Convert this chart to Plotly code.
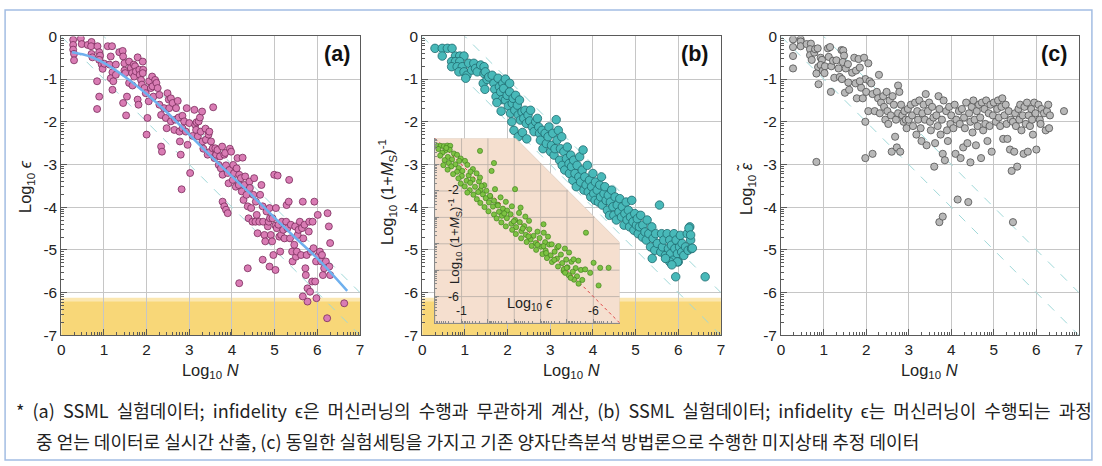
import math
import plotly.graph_objects as go

# ---------------- data ----------------
# panel (a): Log10 N vs Log10 eps
a_x = [0.28,0.28,0.28,0.30,0.30,0.46,0.48,0.62,0.71,0.70,
       0.71,0.73,0.85,0.89,0.91,0.89,0.84,0.89,0.84,0.95,
       0.97,1.01,1.09,1.19,1.16,1.13,1.20,1.16,1.20,1.22,
       1.28,1.28,1.36,1.44,1.45,1.48,1.48,1.50,1.45,1.52,
       1.54,1.59,1.59,1.63,1.66,1.67,1.70,1.71,1.73,1.75,
       1.79,1.83,1.79,1.81,1.84,1.87,1.89,1.91,1.92,1.95,
       1.91,1.98,2.00,2.02,2.05,2.06,2.10,2.13,2.14,2.16,
       2.20,2.23,2.26,2.30,2.30,2.34,2.34,2.36,2.41,2.45,
       2.47,2.49,2.52,2.53,2.57,2.57,2.61,2.65,2.67,2.69,
       2.73,2.75,2.77,2.78,2.80,2.84,2.84,2.88,2.92,2.94,
       2.96,3.00,3.02,3.08,2.82,3.12,3.14,3.16,3.17,3.20,
       3.22,3.25,3.27,3.30,3.31,3.33,3.38,3.39,3.43,3.45,
       3.47,3.48,3.51,3.55,3.56,3.59,3.61,3.63,3.66,3.69,
       3.72,3.74,3.77,3.78,3.82,3.84,3.86,3.90,3.92,3.94,
       3.95,3.98,4.02,4.03,4.05,4.09,4.11,4.13,4.16,4.17,
       3.78,3.82,3.86,3.90,4.17,4.37,4.21,4.23,4.25,4.27,
       4.29,4.31,4.34,4.37,4.39,4.41,4.42,4.45,4.48,4.50,
       4.52,4.55,4.56,4.58,4.60,4.64,4.66,4.69,4.72,4.73,
       4.76,4.78,4.81,4.84,4.86,4.88,4.89,4.91,4.94,4.95,
       4.97,4.99,5.02,5.03,5.05,5.07,5.09,5.11,5.13,5.15,
       4.72,4.88,5.02,5.17,5.20,5.23,5.27,5.28,5.30,5.33,
       5.34,5.36,5.38,5.41,5.42,5.46,5.48,5.50,5.52,5.54,
       5.56,5.59,5.62,5.64,5.66,5.67,5.70,5.72,5.73,5.75,
       5.77,5.80,5.81,5.83,5.85,5.88,5.89,5.91,5.93,5.95,
       5.97,5.98,6.01,6.03,5.77,5.66,6.06,6.09,6.11,6.13,
       6.16,6.20,6.24,6.27,6.30,6.28,6.30,6.23,6.63]
a_y = [-0.08,-0.20,-0.31,-0.41,-0.56,-0.05,-0.18,-0.20,-0.13,-0.23,
       -0.41,-0.49,-0.23,-0.37,-0.45,-0.55,-1.05,-1.41,-1.70,-0.66,
       -0.76,-0.64,-0.23,-0.23,-0.47,-0.66,-0.84,-0.98,-1.25,-1.05,
       -0.66,-0.90,-0.37,-0.34,-0.47,-0.63,-0.80,-0.86,-1.56,-1.85,
       -1.41,-1.09,-0.59,-0.74,-0.86,-1.15,-0.66,-0.94,-0.70,-0.82,
       -0.49,-0.78,-1.48,-1.60,-0.90,-1.02,-1.13,-0.59,-0.78,-1.21,
       -0.86,-1.33,-2.30,-1.91,-1.52,-1.05,-1.21,-0.94,-1.17,-1.41,
       -1.02,-1.09,-1.21,-1.60,-1.37,-1.84,-2.58,-2.70,-1.68,-1.91,
       -2.15,-1.33,-1.48,-1.68,-1.99,-1.45,-1.56,-2.19,-1.95,-1.68,
       -1.51,-1.90,-2.23,-2.46,-2.77,-2.15,-1.86,-1.99,-2.23,-1.68,
       -2.54,-2.03,-3.20,-2.33,-3.58,-1.72,-2.07,-2.19,-2.01,-2.34,
       -1.99,-1.90,-2.23,-1.76,-2.46,-2.63,-2.16,-2.42,-2.77,-2.30,
       -2.23,-2.71,-2.46,-2.62,-1.66,-2.85,-2.62,-2.77,-2.66,-3.01,
       -2.81,-3.09,-2.58,-3.24,-2.77,-2.73,-3.02,-3.20,-3.44,-3.13,
       -2.63,-2.70,-3.36,-3.01,-3.20,-3.52,-3.09,-2.85,-3.48,-3.24,
       -3.87,-3.98,-4.06,-4.14,-5.78,-5.43,-3.32,-3.63,-2.84,-3.83,
       -3.48,-3.28,-3.71,-3.98,-4.26,-3.40,-3.55,-4.02,-4.34,-3.71,
       -3.32,-4.34,-3.87,-4.18,-4.61,-4.34,-3.71,-3.48,-3.98,-4.34,
       -4.65,-4.80,-4.10,-4.45,-4.34,-4.02,-4.26,-4.65,-4.80,-4.26,
       -5.12,-3.24,-4.43,-4.02,-4.49,-3.26,-4.41,-4.69,-5.04,-4.65,
       -5.23,-5.39,-5.47,-4.34,-4.53,-4.73,-4.34,-3.95,-4.49,-3.87,
       -3.36,-4.73,-4.41,-5.04,-5.27,-4.88,-4.45,-5.16,-5.04,-4.65,
       -4.53,-4.34,-5.12,-4.49,-3.87,-4.73,-4.41,-5.43,-5.59,-5.12,
       -5.90,-4.57,-4.34,-5.98,-5.04,-5.74,-4.34,-4.96,-3.87,-5.74,
       -5.27,-6.13,-4.18,-5.12,-6.21,-6.09,-5.04,-5.27,-5.12,-5.59,
       -5.43,-5.27,-4.14,-4.45,-4.84,-5.39,-5.59,-6.60,-6.25]

# fitted curve in panel (a)
fit_x = [0.25, 0.5, 0.75, 1.0, 1.5, 2.0, 2.5, 3.0, 3.5, 4.0, 4.5, 5.0, 5.5, 6.0, 6.7]
fit_y = [-0.37, -0.42, -0.50, -0.62, -0.95, -1.35, -1.80, -2.30, -2.80, -3.28, -3.75, -4.25, -4.73, -5.20, -5.96]

# panel (b): Log10 N vs Log10 (1+M_S)^-1
b_x = [0.30,0.47,0.59,0.70,0.47,0.78,0.88,0.98,0.69,0.78,
       0.88,0.69,0.82,0.94,0.86,0.98,1.09,1.05,1.16,1.02,
       1.21,1.25,1.29,1.37,1.45,1.45,1.48,1.43,1.52,1.47,
       1.56,1.64,1.68,1.70,1.73,1.78,1.81,1.84,1.88,1.89,
       1.91,1.95,1.99,2.02,2.05,2.07,2.11,2.13,2.17,2.19,
       2.23,2.25,2.28,2.30,2.34,2.38,2.41,2.44,2.48,2.52,
       1.95,2.05,2.15,2.25,2.10,1.85,1.75,2.35,2.45,
       2.54,2.58,2.62,2.66,2.70,2.73,2.75,2.77,2.81,2.83,
       2.88,2.91,2.95,2.97,3.01,3.03,3.06,3.09,3.11,3.14,
       3.16,3.19,3.22,3.24,3.27,3.28,3.32,3.34,3.38,3.40,
       3.44,3.45,3.48,3.50,3.53,3.55,3.58,3.61,3.63,3.67,
       3.69,3.71,3.75,3.77,3.79,3.81,3.84,3.87,3.89,3.92,
       3.95,3.97,4.00,4.02,4.05,4.06,4.10,4.13,4.16,4.18,
       4.20,4.22,4.26,4.28,4.31,4.34,4.36,4.39,4.41,4.44,
       4.47,4.49,4.52,4.55,4.57,4.61,4.63,4.67,4.69,4.73,
       4.75,4.78,4.80,4.83,4.86,4.88,4.91,4.94,4.96,4.98,
       5.02,5.04,5.06,5.09,5.12,5.16,5.17,5.22,5.25,5.27,
       5.31,5.35,5.38,5.41,5.45,5.47,5.51,5.56,5.59,5.61,
       5.63,5.66,5.70,5.74,5.77,5.80,5.82,5.84,5.88,5.90,
       5.92,5.95,5.98,6.00,6.03,6.05,6.08,6.09,6.13,6.17,
       6.21,6.23,6.27,6.29,6.31,5.80,5.98,5.94,6.63,5.70,
       5.85,6.25,6.29,6.33,5.39]
b_y = [-0.28,-0.28,-0.28,-0.28,-0.46,-0.46,-0.46,-0.46,-0.59,-0.59,
       -0.59,-0.71,-0.71,-0.71,-0.83,-0.83,-0.63,-0.91,-0.79,-0.98,
       -0.63,-0.75,-0.83,-0.67,-0.71,-0.87,-0.83,-1.10,-1.01,-1.24,
       -0.95,-0.91,-1.10,-1.24,-1.41,-0.98,-1.18,-1.30,-1.48,-1.10,
       -1.22,-1.49,-1.38,-1.63,-1.30,-1.80,-1.57,-1.45,-1.73,-1.38,
       -1.61,-1.84,-1.49,-1.96,-1.77,-1.92,-1.73,-2.04,-1.84,-1.98,
       -1.00,-1.10,-2.20,-2.35,-2.00,-1.75,-1.55,-2.25,-2.40,
       -1.73,-2.12,-2.23,-2.00,-1.92,-2.12,-2.27,-2.43,-2.20,-2.63,
       -2.27,-2.51,-2.35,-2.12,-2.70,-2.55,-2.27,-2.78,-2.63,-1.95,
       -2.43,-2.20,-2.90,-2.63,-2.35,-3.02,-2.70,-3.13,-2.86,-2.59,
       -2.98,-3.21,-2.78,-3.05,-3.37,-2.90,-3.21,-3.52,-3.02,-3.29,
       -2.82,-3.41,-3.13,-2.66,-3.60,-3.29,-3.48,-3.02,-3.64,-3.37,
       -3.76,-3.52,-3.21,-3.68,-3.84,-3.41,-3.60,-3.88,-3.48,-3.76,
       -3.29,-3.95,-3.68,-3.52,-3.84,-4.07,-3.72,-4.19,-3.88,-3.60,
       -3.99,-4.19,-3.76,-4.30,-3.95,-4.11,-3.80,-4.23,-3.99,-4.42,
       -4.15,-3.88,-4.30,-4.07,-4.46,-4.23,-3.84,-4.34,-4.54,-4.15,
       -4.42,-4.27,-4.62,-4.46,-4.19,-4.70,-4.42,-4.58,-4.77,-4.30,
       -4.62,-4.93,-4.46,-4.73,-5.01,-4.62,-4.85,-3.95,-5.05,-4.62,
       -4.93,-4.77,-5.13,-4.62,-4.97,-4.77,-5.09,-4.89,-5.24,-4.62,
       -4.97,-4.77,-5.09,-5.28,-4.93,-4.66,-5.05,-4.85,-5.13,-4.93,
       -4.62,-5.01,-4.46,-4.77,-4.97,-5.28,-5.28,-5.63,-5.63,-5.20,
       -5.35,-4.49,-4.65,-4.96,-5.20]

# inset of (b): Log10 eps vs Log10 (1+M_S)^-1
ins_x = [-0.08,-0.21,-0.33,-0.46,-0.57,
         -0.12,-0.38,-0.27,-0.55,-0.71,
         -0.19,-0.48,-0.83,-0.36,-0.64,
         -0.97,-0.52,-0.76,-1.13,-0.31,
         -0.61,-0.89,-1.22,-0.47,-0.83,
         -1.03,-1.43,-0.68,-1.01,-1.27,
         -1.57,-0.88,-1.19,-1.42,-0.97,
         -1.33,-1.66,-1.86,-1.12,-1.51,
         -1.72,-1.31,-1.63,-1.94,-2.27,
         -1.45,-1.81,-2.09,-1.22,-1.58,
         -1.92,-2.23,-2.48,-1.71,-2.04,
         -2.36,-2.68,-1.87,-2.19,-2.57,
         -2.91,-2.02,-2.42,-2.73,-2.23,
         -2.53,-2.86,-3.18,-2.33,-2.72,
         -3.03,-3.42,-2.51,-2.89,-3.21,
         -3.56,-2.68,-3.07,-3.38,-2.92,
         -3.27,-3.57,-3.88,-3.06,-3.44,
         -3.73,-4.12,-3.26,-3.62,-3.96,
         -4.28,-3.47,-3.81,-4.17,-3.66,
         -4.02,-4.33,-4.63,-3.83,-4.19,
         -4.53,-4.92,-4.07,-4.38,-4.77,
         -5.08,-4.24,-4.62,-4.97,-4.43,
         -4.82,-5.17,-5.43,-4.66,-5.02,
         -5.33,-4.87,-5.22,-5.53,-5.07,
         -5.38,-5.27,-5.58,-5.44,
         -0.42,-0.91,-1.34,-1.76,-2.08,
         -2.38,-2.62,-2.98,-3.32,-3.54,
         -3.88,-4.21,-4.52,-4.88,-5.14,
         -1.70,-2.23,-2.14,-1.70,-3.03,
         -3.24,-4.11,-4.42,-4.68,-4.11,
         -5.72,-6.58,-6.26,-6.20,-5.69,
         -6.01,-5.88,-5.25,-4.99,-4.93]
ins_y = [-0.29,-0.29,-0.30,-0.28,-0.29,
         -0.41,-0.47,-0.55,-0.44,-0.58,
         -0.66,-0.71,-0.63,-0.83,-0.80,
         -0.77,-0.94,-0.99,-0.86,-1.02,
         -1.07,-1.13,-1.01,-1.19,-1.27,
         -1.24,-1.17,-1.36,-1.43,-1.41,
         -1.33,-1.52,-1.61,-1.57,-1.72,
         -1.69,-1.64,-1.78,-1.83,-1.84,
         -1.96,-1.97,-2.04,-1.99,-1.93,
         -2.14,-2.13,-2.21,-2.06,-2.31,
         -2.27,-2.37,-2.24,-2.45,-2.43,
         -2.52,-2.41,-2.61,-2.59,-2.67,
         -2.58,-2.77,-2.79,-2.74,-2.89,
         -2.94,-2.88,-2.83,-3.04,-3.03,
         -3.10,-2.97,-3.19,-3.24,-3.18,
         -3.13,-3.34,-3.37,-3.33,-3.47,
         -3.52,-3.45,-3.54,-3.63,-3.66,
         -3.70,-3.58,-3.79,-3.84,-3.78,
         -3.73,-3.93,-3.97,-3.94,-4.08,
         -4.11,-4.03,-4.14,-4.23,-4.26,
         -4.30,-4.18,-4.39,-4.44,-4.41,
         -4.33,-4.54,-4.56,-4.60,-4.69,
         -4.73,-4.68,-4.64,-4.86,-4.89,
         -4.92,-5.03,-5.06,-4.99,-5.19,
         -5.23,-5.36,-5.37,-5.51,
         -0.37,-0.86,-1.27,-1.81,-2.18,
         -2.55,-2.85,-3.15,-3.42,-3.72,
         -4.04,-4.35,-4.61,-4.96,-5.29,
         -0.48,-0.94,-1.24,-1.49,-1.93,
         -2.63,-3.26,-4.02,-4.09,-4.09,
         -3.58,-4.91,-4.91,-5.58,-4.97,
         -4.72,-5.10,-4.59,-4.91,-5.10]

# panel (c): Log10 N vs Log10 eps~ (conventional tomography)
c_x = [0.28,0.28,0.28,0.28,0.46,0.46,0.46,0.60,0.70,0.68,
       0.68,0.72,0.78,0.80,0.86,0.87,0.83,0.88,0.93,0.96,
       0.93,0.98,1.03,1.02,0.83,
       1.10,1.15,1.12,1.18,1.17,1.22,1.25,1.30,1.35,1.38,
       1.42,1.46,1.48,1.45,1.43,1.52,1.50,1.57,1.58,1.60,
       1.67,1.72,1.76,1.75,1.78,1.82,1.85,1.88,1.95,1.98,
       1.92,2.00,1.98,1.98,1.85,
       2.05,2.08,2.05,2.12,2.15,2.15,2.20,2.25,2.28,2.30,
       2.32,2.35,2.40,2.42,2.45,2.48,2.50,2.52,2.55,2.58,
       2.60,2.62,2.65,2.68,2.70,2.72,2.75,2.75,2.78,2.80,
       2.82,2.85,2.88,2.90,2.93,2.95,2.98,3.00,
       3.05,3.08,3.10,3.15,3.18,3.20,3.22,3.25,3.28,3.30,
       3.32,3.35,3.38,3.40,3.42,3.45,3.48,3.50,3.52,3.55,
       3.58,3.60,3.62,3.65,3.68,3.70,3.72,3.72,3.75,3.78,
       3.80,3.80,3.82,3.85,3.88,3.90,3.92,3.95,3.98,4.00,
       4.05,4.08,4.10,4.12,4.15,4.18,4.20,4.22,4.25,4.28,
       4.30,4.32,4.35,4.38,4.40,4.42,4.45,4.45,4.48,4.50,
       4.52,4.55,4.58,4.60,4.62,4.65,4.68,4.70,4.72,4.75,
       4.78,4.80,4.82,4.85,4.88,4.90,4.92,4.95,4.98,5.00,
       5.05,5.08,5.10,5.12,5.15,5.18,5.20,5.22,5.25,5.28,
       5.30,5.32,5.35,5.38,5.40,5.42,5.45,5.45,5.48,5.50,
       5.52,5.55,5.58,5.60,5.62,5.65,5.68,5.70,5.72,5.75,
       5.78,5.80,5.82,5.85,5.88,5.90,5.92,5.95,5.98,6.00,
       6.05,6.08,6.10,6.12,6.18,6.22,6.25,6.28,6.30,6.32,6.65]
c_y = [-0.07,-0.25,-0.46,-0.75,-0.07,-0.12,-0.23,-0.18,-0.17,-0.30,
       -0.44,-0.55,-0.38,-0.30,-0.28,-0.72,-0.87,-1.12,-0.50,-0.55,
       -0.67,-0.80,-0.70,-0.86,-2.94,
       -0.28,-0.25,-0.48,-0.70,-1.30,-0.57,-0.97,-0.56,-0.75,-0.95,
       -0.32,-0.33,-0.45,-0.60,-1.00,-0.75,-1.32,-0.65,-1.08,-1.25,
       -0.85,-0.50,-0.80,-1.10,-1.45,-0.53,-0.73,-1.20,-0.50,-1.00,
       -1.45,-1.30,-2.00,-2.85,-1.05,
       -0.63,-1.05,-1.75,-1.10,-1.35,-2.75,-1.75,-1.30,-1.45,-0.90,
       -1.80,-1.55,-1.40,-1.65,-1.95,-1.30,-1.75,-2.05,-1.50,-1.85,
       -2.70,-1.40,-1.60,-2.35,-1.95,-2.60,-1.15,-1.80,-1.30,-2.70,
       -1.60,-1.85,-2.00,-1.75,-1.95,-2.15,-1.70,-1.95,
       -1.60,-1.85,-2.10,-1.55,-2.30,-1.75,-1.95,-1.50,-2.15,-2.45,
       -1.80,-1.60,-1.95,-1.35,-2.55,-1.75,-1.55,-2.00,-2.20,-1.65,
       -1.90,-3.05,-2.50,-1.85,-2.10,-1.40,-1.70,-4.35,-2.30,-1.95,
       -4.22,-2.75,-1.50,-2.90,-1.75,-2.20,-2.45,-1.65,-2.05,-1.85,
       -2.15,-1.60,-2.75,-1.95,-3.82,-1.75,-2.05,-2.85,-1.70,-2.60,
       -1.90,-2.15,-1.55,-2.50,-3.88,-1.80,-2.00,-2.95,-1.65,-2.25,
       -1.50,-1.95,-2.55,-1.75,-2.10,-1.60,-1.90,-2.85,-1.55,-2.20,
       -1.70,-2.05,-1.50,-2.45,-1.80,-2.10,-1.60,-2.70,-1.85,-1.55,
       -2.00,-1.70,-1.50,-1.90,-2.10,-1.65,-1.45,-2.40,-1.85,-1.60,
       -2.05,-2.40,-1.75,-2.65,-1.95,-3.15,-4.35,-2.00,-2.70,-1.80,
       -2.10,-3.05,-1.70,-1.95,-1.60,-2.20,-1.85,-2.75,-1.65,-2.05,
       -1.55,-2.70,-1.85,-2.10,-1.70,-1.95,-2.30,-1.55,-1.80,-2.65,
       -1.60,-1.95,-2.05,-1.70,-1.80,-2.20,-1.75,-1.60,-2.15,-1.85,-1.75]

# reference guides: Log10 eps = -Log10 N + offset
guide_x = [0, 7]
guide_offsets = [0, 1]
# inset reference diagonal
ins_guide = [0, -7]

x_ticks = [0, 1, 2, 3, 4, 5, 6, 7]
y_ticks = [0, -1, -2, -3, -4, -5, -6, -7]
ins_ticks = [-1, -2, -3, -4, -5, -6]

caption1 = "* (a) SSML 실험데이터; infidelity ϵ은 머신러닝의 수행과 무관하게 계산, (b) SSML 실험데이터; infidelity ϵ는 머신러닝이 수행되는 과정"
caption2 = "중 얻는 데이터로 실시간 산출, (c) 동일한 실험세팅을 가지고 기존 양자단측분석 방법론으로 수행한 미지상태 추정 데이터"

# ---------------- figure ----------------
# The page adds an 8 px body margin and the whole page is fitted into the
# 1102x466 picture, so target pixel positions are converted accordingly.
OFF = 8
W, H = 1097, 469
KX, KY = 1102 / (W + 2 * OFF), 466 / (H + 2 * OFF)
FONT = "Liberation Sans, Arial, sans-serif"
AXC = "#5a5a5a"
GRID = "#c6c6c6"
FS = 1 / ((KX + KY) / 2)   # font scale compensation

def px_x(p):
    return (p / KX - OFF) / W

def px_y(p):
    return 1 - (p / KY - OFF) / H

dom_y = [px_y(333), px_y(35)]
dom_a = [px_x(65), px_x(363)]
dom_b = [px_x(425), px_x(723)]
dom_c = [px_x(783), px_x(1080)]
dom_ins_x = [px_x(438), px_x(622)]
dom_ins_y = [px_y(320.7), px_y(136.5)]

minor_x = [n + math.log10(k) for n in range(7) for k in range(2, 10)]
minor_y = [-m - 1 + math.log10(k) for m in range(7) for k in range(2, 10)]

fig = go.Figure()

def guides(xa, ya):
    for off in guide_offsets:
        fig.add_trace(go.Scatter(
            x=guide_x, y=[off - v for v in guide_x], xaxis=xa, yaxis=ya,
            mode="lines", line=dict(color="#9fd8d8", width=1, dash="dash"),
            hoverinfo="skip"))

# panel (a)
guides("x", "y")
fig.add_trace(go.Scatter(x=a_x, y=a_y, xaxis="x", yaxis="y", mode="markers",
                         marker=dict(size=7, color="#d97cb4",
                                     line=dict(color="#7a2c5c", width=0.8))))
fig.add_trace(go.Scatter(x=fit_x, y=fit_y, xaxis="x", yaxis="y", mode="lines",
                         line=dict(color="#6fb0ee", width=2.5, shape="spline")))

# panel (b)
guides("x2", "y2")
fig.add_trace(go.Scatter(x=b_x, y=b_y, xaxis="x2", yaxis="y2", mode="markers",
                         marker=dict(size=8.5, color="#48b9b9",
                                     line=dict(color="#1f6a6e", width=0.8))))

# panel (c)
guides("x3", "y3")
fig.add_trace(go.Scatter(x=c_x, y=c_y, xaxis="x3", yaxis="y3", mode="markers",
                         marker=dict(size=7.2, color="#b8b8b8",
                                     line=dict(color="#505050", width=0.8))))

# inset (on its own axes, drawn above panel b)
cut_x0 = -3.05  # the inset's upper-right corner is cut along y = x - cut_x0
poly_x = [0, cut_x0, -7, -7, 0, 0]
poly_y = [0, 0, -7 - cut_x0, -7, -7, 0]
fig.add_trace(go.Scatter(x=poly_x, y=poly_y, xaxis="x4", yaxis="y4", mode="lines",
                         fill="toself", fillcolor="#f5dfcf",
                         line=dict(color="#dccbbe", width=0.8), hoverinfo="skip"))
for t in ins_ticks:
    ytop = min(0, t - cut_x0)
    fig.add_trace(go.Scatter(x=[t, t], y=[-7, ytop], xaxis="x4", yaxis="y4", mode="lines",
                             line=dict(color="#bdb2aa", width=0.9), hoverinfo="skip"))
    xend = max(-7, t + cut_x0)
    fig.add_trace(go.Scatter(x=[0, xend], y=[t, t], xaxis="x4", yaxis="y4", mode="lines",
                             line=dict(color="#bdb2aa", width=0.9), hoverinfo="skip"))
fig.add_trace(go.Scatter(x=ins_guide, y=ins_guide, xaxis="x4", yaxis="y4", mode="lines",
                         line=dict(color="#e04848", width=1, dash="dot"), hoverinfo="skip"))
fig.add_trace(go.Scatter(x=ins_x, y=ins_y, xaxis="x4", yaxis="y4", mode="markers",
                         marker=dict(size=5.2, color="#7dc243",
                                     line=dict(color="#3b7a1a", width=0.6))))

def main_x(dom, anchor):
    return dict(domain=dom, anchor=anchor, range=[0, 7], showgrid=True, gridcolor=GRID,
                gridwidth=1, zeroline=False, showline=True, linecolor=AXC, linewidth=1.2,
                mirror=True, ticks="inside", ticklen=6, tickcolor=AXC, tickwidth=1,
                tickmode="array", tickvals=x_ticks, ticktext=[str(v) for v in x_ticks],
                tickfont=dict(family=FONT, size=15 * FS, color="#222"),
                minor=dict(tickmode="array", tickvals=minor_x, ticks="inside",
                           ticklen=3, tickcolor=AXC, showgrid=False))

def main_y(anchor):
    return dict(domain=dom_y, anchor=anchor, range=[-7, 0], showgrid=True, gridcolor=GRID,
                gridwidth=1, zeroline=False, showline=True, linecolor=AXC, linewidth=1.2,
                mirror=True, ticks="inside", ticklen=6, tickcolor=AXC, tickwidth=1,
                tickmode="array", tickvals=y_ticks, ticktext=[str(v) for v in y_ticks],
                tickfont=dict(family=FONT, size=15 * FS, color="#222"),
                minor=dict(tickmode="array", tickvals=minor_y, ticks="inside",
                           ticklen=3, tickcolor=AXC, showgrid=False))

fig.update_layout(
    width=W, height=H, margin=dict(l=0, r=0, t=0, b=0),
    paper_bgcolor="white", plot_bgcolor="rgba(0,0,0,0)",
    showlegend=False, hovermode=False,
    xaxis=main_x(dom_a, "y"), yaxis=main_y("x"),
    xaxis2=main_x(dom_b, "y2"), yaxis2=main_y("x2"),
    xaxis3=main_x(dom_c, "y3"), yaxis3=main_y("x3"),
    xaxis4=dict(domain=dom_ins_x, anchor="y4", range=[0, -7], showgrid=False, zeroline=False,
                showline=True, linecolor="#8a8a8a", linewidth=1, ticks="inside", ticklen=4,
                tickcolor="#8a8a8a", tickmode="array", tickvals=ins_ticks, showticklabels=False,
                minor=dict(tickmode="array", tickvals=[v for v in minor_y if v > -7], ticks="inside",
                           ticklen=2, tickcolor="#8a8a8a")),
    yaxis4=dict(domain=dom_ins_y, anchor="x4", range=[-7, 0], showgrid=False, zeroline=False,
                showline=True, linecolor="#8a8a8a", linewidth=1, ticks="inside", ticklen=4,
                tickcolor="#8a8a8a", tickmode="array", tickvals=ins_ticks, showticklabels=False,
                minor=dict(tickmode="array", tickvals=minor_y, ticks="inside",
                           ticklen=2, tickcolor="#8a8a8a")),
)

# yellow bands (a) and (b)
for xr, yr in (("x", "y"), ("x2", "y2")):
    fig.add_shape(type="rect", xref=xr, yref=yr, x0=0, x1=7, y0=-6.2, y1=-6.12,
                  fillcolor="#fbe7b0", line=dict(width=0), layer="below")
    fig.add_shape(type="rect", xref=xr, yref=yr, x0=0, x1=7, y0=-7, y1=-6.2,
                  fillcolor="#f8d778", line=dict(width=0), layer="below")

# outer frame (as close to the window edge as the figure allows)
fig.add_shape(type="rect", xref="paper", yref="paper", x0=0.001, x1=0.999,
              y0=0.002, y1=0.998, line=dict(color="#a3bde3", width=1.5),
              fillcolor="rgba(0,0,0,0)")

ann = []
def text(x, y, s, size=16, xanchor="center", angle=0, bold=False, family=FONT, color="#222"):
    if bold:
        s = "<b>" + s + "</b>"
    ann.append(dict(x=px_x(x), y=px_y(y), xref="paper", yref="paper", text=s, showarrow=False,
                    xanchor=xanchor, yanchor="middle", textangle=angle,
                    font=dict(family=family, size=size * FS, color=color)))

# panel labels
text(340, 53, "(a)", size=21, bold=True, color="#111")
text(697, 53, "(b)", size=21, bold=True, color="#111")
text(1055, 53, "(c)", size=21, bold=True, color="#111")
# x titles
for cx in (214, 574, 931):
    text(cx, 369, "Log<sub>10</sub> <i>N</i>", size=16)
# y titles
text(30, 185, "Log<sub>10</sub> <i>ϵ</i>", size=16, angle=-90)
text(390, 190, "Log<sub>10</sub> (1+<i>M</i><sub>S</sub>)<sup>-1</sup>", size=16, angle=-90)
text(749, 187, "Log<sub>10</sub> <i>ε̃</i>", size=16, angle=-90)

# caption (word gaps widened to mimic the justified original)
KR = "Noto Sans CJK KR, sans-serif"
text(18, 407, caption1.replace(" ", " \u00a0"), size=17.6, xanchor="left", family=KR)
text(38, 438, caption2, size=17.6, xanchor="left", family=KR)

fig.update_layout(annotations=ann)

# inset labels (in inset data coordinates)
ins_ann = [
    dict(x=-1, y=-6.56, text="-1"), dict(x=-6, y=-6.56, text="-6"),
    dict(x=-0.71, y=-1.95, text="-2"), dict(x=-0.71, y=-6, text="-6"),
]
for a in ins_ann:
    fig.add_annotation(x=a["x"], y=a["y"], xref="x4", yref="y4", text=a["text"], showarrow=False,
                       font=dict(family=FONT, size=12 * FS, color="#222"))
fig.add_annotation(x=-3.6, y=-6.3, xref="x4", yref="y4", text="Log<sub>10</sub> <i>ϵ</i>",
                   showarrow=False, font=dict(family=FONT, size=14 * FS, color="#222"))
fig.add_annotation(x=-0.75, y=-3.9, xref="x4", yref="y4", textangle=-90,
                   text="Log<sub>10</sub> (1+<i>M</i><sub>S</sub>)<sup>-1</sup>",
                   showarrow=False, font=dict(family=FONT, size=13 * FS, color="#222"))

fig.write_html("out.html")
